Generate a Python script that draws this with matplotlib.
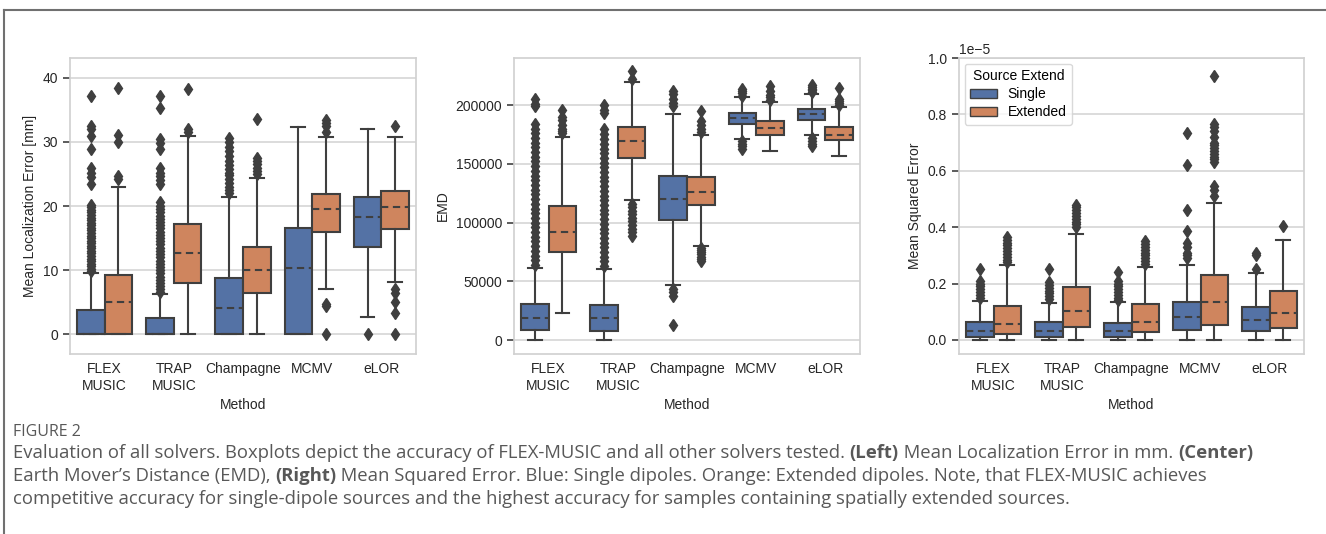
import matplotlib
matplotlib.use("Agg")
import matplotlib.pyplot as plt
from matplotlib.patches import Patch
from matplotlib.lines import Line2D

plt.rcParams['font.family'] = ['Liberation Sans', 'DejaVu Sans']

methods = ["FLEX\nMUSIC", "TRAP\nMUSIC", "Champagne", "MCMV", "eLOR"]
hues = ["Single", "Extended"]

# Mean Localization Error [mm]
mle_single_q1 = [0, 0, 0, 0, 13.6]
mle_single_med = [0, 0, 4.15, 10.3, 18.3]
mle_single_q3 = [3.8, 2.5, 8.7, 16.6, 21.4]
mle_single_lo = [0, 0, 0, 0, 2.65]
mle_single_hi = [9.5, 6.3, 21.4, 32.3, 32.0]
mle_single_fl = [
    [9.8, 10.2, 10.6, 11.0, 11.4, 11.8, 12.2, 12.6, 13.0, 13.4, 13.8, 14.2, 14.6, 15.0,
     15.4, 15.8, 16.2, 16.6, 17.0, 17.4, 17.8, 18.2, 18.6, 19.0, 19.4, 19.8, 20.2,
     23.4, 24.5, 25.1, 26.0, 28.9, 30.9, 32.0, 32.5, 37.1],
    [6.6, 7.0, 7.5, 8.0, 8.5, 9.0, 9.5, 10.0, 10.5, 11.0, 11.5, 12.0, 12.5, 13.0, 13.5,
     14.0, 14.5, 15.0, 15.5, 16.0, 16.5, 17.0, 17.5, 18.0, 18.5, 19.0, 19.5, 20.0, 20.6,
     23.4, 24.0, 24.6, 25.2, 26.0, 28.9, 29.8, 30.4, 35.2, 37.1],
    [22.0, 22.5, 23.0, 23.6, 24.2, 24.8, 25.2, 25.8, 26.4, 27.0, 27.8, 28.6, 29.2, 30.0, 30.6],
    [],
    [0],
]
mle_ext_q1 = [0, 8.0, 6.4, 15.9, 16.45]
mle_ext_med = [5.1, 12.6, 10.1, 19.6, 19.8]
mle_ext_q3 = [9.3, 17.2, 13.6, 21.9, 22.4]
mle_ext_lo = [0, 0, 0, 7.0, 8.2]
mle_ext_hi = [23.0, 30.9, 24.3, 30.7, 30.8]
mle_ext_fl = [
    [24.2, 24.6, 30.0, 31.0, 38.4],
    [31.5, 32.0, 38.2],
    [25.0, 25.5, 26.0, 26.5, 27.0, 27.5, 33.5],
    [0, 4.4, 4.8, 31.6, 32.4, 33.0, 33.4],
    [0, 3.3, 5.0, 6.5, 7.0, 32.4],
]

# Earth Mover's Distance
emd_single_q1 = [8800, 8200, 102300, 183900, 187300]
emd_single_med = [18700, 18700, 120400, 188700, 192100]
emd_single_q3 = [30600, 29700, 139700, 193500, 196600]
emd_single_lo = [0, 0, 47000, 171100, 174500]
emd_single_hi = [61200, 60300, 192100, 206500, 209600]
emd_single_fl = [
    [64000, 68000, 72000, 76000, 80000, 84000, 88000, 92000, 96000, 100000, 104000,
     108000, 112000, 116000, 120000, 124000, 128000, 132000, 136000, 140000, 144000,
     148000, 152000, 156000, 160000, 164000, 168000, 172000, 176000, 180000, 184000,
     199000, 201000, 205000],
    [63000, 67000, 71000, 75000, 79000, 83000, 87000, 91000, 95000, 99000, 103000,
     107000, 111000, 115000, 119000, 123000, 127000, 131000, 135000, 139000, 143000,
     147000, 151000, 155000, 159000, 163000, 167000, 171000, 175000, 180000,
     193000, 196000, 200000],
    [12800, 38000, 41000, 44000, 199000, 202000, 205000, 209000, 212000],
    [163000, 165000, 167000, 169000, 208000, 210000, 212000, 214000],
    [165000, 167000, 169000, 172000, 211000, 212500, 214000, 215500, 217000],
]
emd_ext_q1 = [74800, 155000, 115000, 174500, 170000]
emd_ext_med = [91800, 169100, 126100, 180200, 174500]
emd_ext_q3 = [114500, 181000, 138800, 186100, 181600]
emd_ext_lo = [22900, 119300, 79900, 160600, 156900]
emd_ext_hi = [173100, 219800, 174500, 202800, 198300]
emd_ext_fl = [
    [176000, 178000, 180000, 183000, 187000, 190000, 196000],
    [89000, 92000, 95000, 98000, 101000, 104000, 107000, 110000, 113000, 116000,
     222000, 228500],
    [67000, 69000, 71000, 73000, 75000, 77000, 78500, 177000, 180000, 183000, 186000, 194500],
    [204500, 206500, 208500, 212000, 216500],
    [200000, 202000, 203500, 205000, 214500],
]

# Mean Squared Error (units of 1e-5)
mse_single_q1 = [0.010, 0.010, 0.010, 0.036, 0.031]
mse_single_med = [0.032, 0.032, 0.032, 0.081, 0.071]
mse_single_q3 = [0.064, 0.062, 0.060, 0.135, 0.116]
mse_single_lo = [0, 0, 0, 0, 0]
mse_single_hi = [0.139, 0.132, 0.133, 0.265, 0.237]
mse_single_fl = [
    [0.15, 0.16, 0.17, 0.18, 0.19, 0.20, 0.21, 0.25],
    [0.145, 0.155, 0.165, 0.175, 0.185, 0.195, 0.205, 0.25],
    [0.14, 0.15, 0.16, 0.17, 0.18, 0.19, 0.20, 0.21, 0.24],
    [0.29, 0.30, 0.31, 0.33, 0.345, 0.385, 0.46, 0.62, 0.735],
    [0.25, 0.30, 0.31],
]
mse_ext_q1 = [0.020, 0.045, 0.027, 0.052, 0.0415]
mse_ext_med = [0.058, 0.102, 0.065, 0.135, 0.097]
mse_ext_q3 = [0.121, 0.188, 0.128, 0.231, 0.173]
mse_ext_lo = [0, 0, 0, 0, 0]
mse_ext_hi = [0.264, 0.376, 0.257, 0.487, 0.355]
mse_ext_fl = [
    [0.275, 0.285, 0.295, 0.305, 0.315, 0.325, 0.335, 0.345, 0.355, 0.365],
    [0.40, 0.41, 0.42, 0.43, 0.44, 0.45, 0.46, 0.47, 0.48],
    [0.27, 0.28, 0.29, 0.30, 0.31, 0.32, 0.33, 0.34, 0.35],
    [0.51, 0.53, 0.545, 0.63, 0.64, 0.65, 0.66, 0.67, 0.68, 0.69, 0.70, 0.72, 0.74,
     0.755, 0.765, 0.935],
    [0.405],
]
mse_scale = 1e-5

blue = '#5472A5'
orange = '#CF855E'
gray = '#3f3f3f'


def make_stats(q1, med, q3, lo, hi, fl, scale=1.0):
    stats = []
    for i in range(len(q1)):
        stats.append({'q1': q1[i] * scale, 'med': med[i] * scale, 'q3': q3[i] * scale,
                      'whislo': lo[i] * scale, 'whishi': hi[i] * scale,
                      'fliers': [v * scale for v in fl[i]]})
    return stats


def draw_panel(ax, single, ext, ylabel):
    for stats, color, off in [(single, blue, -0.2), (ext, orange, 0.2)]:
        pos = [i + off for i in range(len(stats))]
        ax.bxp(stats, positions=pos, widths=0.4, patch_artist=True, manage_ticks=False,
               boxprops=dict(facecolor=color, edgecolor=gray, linewidth=1.5),
               medianprops=dict(color=gray, linestyle=(0, (3.5, 2.2)), linewidth=1.5),
               whiskerprops=dict(color=gray, linewidth=1.5),
               capprops=dict(color=gray, linewidth=1.5),
               flierprops=dict(marker='d', markerfacecolor=gray, markeredgecolor=gray,
                               markersize=6, linestyle='none'))
    ax.set_xlim(-0.5, len(methods) - 0.5)
    ax.set_xticks(range(len(methods)))
    ax.set_xticklabels(methods)
    ax.set_xlabel('Method', fontsize=10, color='#262626')
    ax.set_ylabel(ylabel, fontsize=10, color='#262626')
    ax.yaxis.grid(True, color='#d5d5d5', linewidth=1.2)
    ax.set_axisbelow(True)
    for s in ax.spines.values():
        s.set_color('#d0d0d0')
        s.set_linewidth(1.2)
    ax.tick_params(axis='x', length=0, labelsize=10, labelcolor='#262626', pad=6)
    ax.tick_params(axis='y', length=5, width=1.2, color=gray, labelsize=10,
                   labelcolor='#262626')


fig = plt.figure(figsize=(13.26, 5.34), dpi=100)
ax1 = fig.add_axes([70 / 1326, 180 / 534, 346 / 1326, 296 / 534])
ax2 = fig.add_axes([514 / 1326, 180 / 534, 346 / 1326, 296 / 534])
ax3 = fig.add_axes([959 / 1326, 180 / 534, 345 / 1326, 296 / 534])

draw_panel(ax1, make_stats(mle_single_q1, mle_single_med, mle_single_q3, mle_single_lo,
                           mle_single_hi, mle_single_fl),
           make_stats(mle_ext_q1, mle_ext_med, mle_ext_q3, mle_ext_lo, mle_ext_hi, mle_ext_fl),
           'Mean Localization Error [mm]')
ax1.set_ylim(-3.07, 43.07)
ax1.set_yticks([0, 10, 20, 30, 40])

draw_panel(ax2, make_stats(emd_single_q1, emd_single_med, emd_single_q3, emd_single_lo,
                           emd_single_hi, emd_single_fl),
           make_stats(emd_ext_q1, emd_ext_med, emd_ext_q3, emd_ext_lo, emd_ext_hi, emd_ext_fl),
           'EMD')
ax2.set_ylim(-11640, 239950)
ax2.set_yticks([0, 50000, 100000, 150000, 200000])
ax2.set_yticklabels(['0', '50000', '100000', '150000', '200000'])

draw_panel(ax3, make_stats(mse_single_q1, mse_single_med, mse_single_q3, mse_single_lo,
                           mse_single_hi, mse_single_fl, mse_scale),
           make_stats(mse_ext_q1, mse_ext_med, mse_ext_q3, mse_ext_lo, mse_ext_hi,
                      mse_ext_fl, mse_scale),
           'Mean Squared Error')
ax3.set_ylim(-0.05e-5, 1.0e-5)
ax3.set_yticks([0, 0.2e-5, 0.4e-5, 0.6e-5, 0.8e-5, 1.0e-5])
ax3.yaxis.get_offset_text().set_fontsize(10)

handles = [Patch(facecolor=blue, edgecolor=gray, linewidth=1.0, label=hues[0]),
           Patch(facecolor=orange, edgecolor=gray, linewidth=1.0, label=hues[1])]
leg = ax3.legend(handles=handles, title='Source Extend', loc='upper left', fontsize=10,
                 title_fontsize=10, edgecolor='#d0d0d0', handlelength=1.9,
                 labelspacing=0.3, borderaxespad=0.4)

# outer frame (top and left)
fig.add_artist(Line2D([4 / 1326, 1.0], [1 - 10 / 534, 1 - 10 / 534], color='#707070',
                      linewidth=1.5, transform=fig.transFigure))
fig.add_artist(Line2D([4 / 1326, 4 / 1326], [0, 1 - 10 / 534], color='#707070',
                      linewidth=1.5, transform=fig.transFigure))

# caption
cap_font = ['Open Sans', 'DejaVu Sans']
cap_color = '#585858'
fig.text(13 / 1326, 1 - 432 / 534, 'FIGURE 2', fontsize=11.5, color=cap_color,
         family=cap_font, va='center')

caption_lines = [
    [("Evaluation of all solvers. Boxplots depict the accuracy of FLEX-MUSIC and all other "
      "solvers tested. ", 'normal'), ('(Left)', 'bold'),
     (' Mean Localization Error in mm. ', 'normal'), ('(Center)', 'bold')],
    [("Earth Mover\u2019s Distance (EMD), ", 'normal'), ('(Right)', 'bold'),
     (" Mean Squared Error. Blue: Single dipoles. Orange: Extended dipoles. Note, that "
      "FLEX-MUSIC achieves", 'normal')],
    [("competitive accuracy for single-dipole sources and the highest accuracy for samples "
      "containing spatially extended sources.", 'normal')],
]
line_y = [453, 476, 499]
for line, y in zip(caption_lines, line_y):
    prev = None
    for txt, weight in line:
        if prev is None:
            prev = fig.text(13 / 1326, 1 - y / 534, txt, fontsize=13.3, color=cap_color,
                            family=cap_font, weight=weight, va='center')
        else:
            prev = ax1.annotate(txt, xy=(1, 0.5), xycoords=prev, va='center', ha='left',
                                fontsize=13.3, color=cap_color, family=cap_font,
                                weight=weight, annotation_clip=False)

fig.savefig('out.png', dpi=100)
